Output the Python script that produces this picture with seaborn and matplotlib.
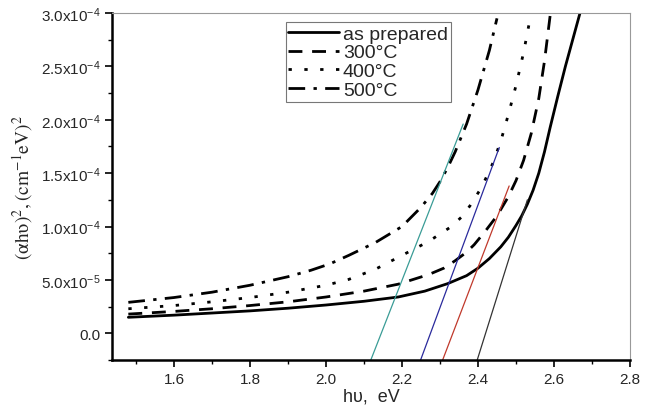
import matplotlib
matplotlib.use("Agg")
import matplotlib.pyplot as plt
import seaborn as sns
import numpy as np
from matplotlib.ticker import MultipleLocator, FuncFormatter

# photon energy (eV) and (alpha h nu)^2, y in units of 1e-5
x_prep = [1.48, 1.60, 1.70, 1.80, 1.90, 2.00, 2.10, 2.19, 2.26, 2.32, 2.37, 2.40, 2.43, 2.46, 2.48, 2.50,
          2.515, 2.53, 2.545, 2.56, 2.575, 2.59, 2.61, 2.63, 2.65, 2.67]
y_prep = [1.5, 1.7, 1.9, 2.1, 2.35, 2.65, 3.0, 3.4, 3.95, 4.65, 5.4, 6.1, 7.0, 8.1, 9.0, 10.1,
          11.0, 12.1, 13.4, 15.0, 17.0, 19.3, 22.2, 25.0, 27.6, 30.2]

x_300 = [1.48, 1.60, 1.70, 1.80, 1.90, 2.00, 2.10, 2.19, 2.27, 2.31, 2.34, 2.37, 2.39, 2.42, 2.45, 2.48,
         2.50, 2.52, 2.54, 2.56, 2.575, 2.59]
y_300 = [1.8, 2.05, 2.3, 2.6, 2.95, 3.4, 3.95, 4.6, 5.5, 6.1, 6.8, 7.6, 8.3, 9.6, 11.0, 12.8,
         14.3, 16.2, 18.7, 22.0, 25.5, 29.8]

x_400 = [1.48, 1.60, 1.70, 1.80, 1.90, 2.00, 2.06, 2.13, 2.20, 2.27, 2.33, 2.36, 2.38, 2.41, 2.44, 2.46,
         2.48, 2.50, 2.52, 2.54]
y_400 = [2.3, 2.6, 2.95, 3.35, 3.85, 4.5, 5.05, 6.0, 7.3, 8.6, 10.0, 11.0, 12.0, 13.7, 16.0, 18.0,
         20.5, 23.2, 26.3, 30.0]

x_500 = [1.48, 1.60, 1.70, 1.80, 1.90, 1.96, 2.01, 2.06, 2.13, 2.20, 2.25, 2.28, 2.30, 2.32, 2.34, 2.37,
         2.40, 2.43, 2.45]
y_500 = [2.9, 3.35, 3.85, 4.5, 5.3, 5.9, 6.5, 7.3, 8.5, 10.0, 11.8, 13.1, 14.2, 15.5, 17.0, 19.6,
         22.8, 26.5, 29.5]

# linear fits used to get the band gap: x ends and y ends (1e-5)
fit_x = [[2.118, 2.361], [2.249, 2.456], [2.307, 2.482], [2.398, 2.530]]
fit_y = [[-2.5, 19.6], [-2.5, 17.4], [-2.5, 13.8], [-2.5, 12.5]]
fit_colors = ["#3a9c96", "#2a2a9c", "#c0392b", "#333333"]

labels = ["as prepared", "300°C", "400°C", "500°C"]

sns.set_style("ticks")
plt.rcParams['font.family'] = ['Liberation Sans', 'DejaVu Sans']
plt.rcParams['mathtext.fontset'] = 'stix'

fig = plt.figure(figsize=(6.58, 4.10), dpi=100)
ax = fig.add_axes([112 / 658, 49 / 410, 518 / 658, 347 / 410])

scale = 1e-5
sns.lineplot(x=x_prep, y=np.array(y_prep) * scale, ax=ax, color="black", lw=2.0, label=labels[0], sort=False)
sns.lineplot(x=x_300, y=np.array(y_300) * scale, ax=ax, color="black", lw=2.0, label=labels[1], sort=False)
sns.lineplot(x=x_400, y=np.array(y_400) * scale, ax=ax, color="black", lw=2.0, label=labels[2], sort=False)
sns.lineplot(x=x_500, y=np.array(y_500) * scale, ax=ax, color="black", lw=2.0, label=labels[3], sort=False)
lines = ax.get_lines()
lines[1].set_dashes([5, 3.5])
lines[2].set_dashes([1.2, 4.5])
lines[3].set_dashes([6, 3, 1.2, 3])

for xs, ys, c in zip(fit_x, fit_y, fit_colors):
    ax.plot(xs, np.array(ys) * scale, color=c, lw=0.9)

ax.set_xlim(1.437, 2.8)
ax.set_ylim(-2.5e-5, 3.0e-4)
ax.xaxis.set_major_locator(MultipleLocator(0.2))
ax.xaxis.set_minor_locator(MultipleLocator(0.1))
ax.yaxis.set_major_locator(MultipleLocator(5e-5))
ax.yaxis.set_minor_locator(MultipleLocator(2.5e-5))


def sci(v, pos):
    if abs(v) < 1e-12:
        return "0.0"
    exp = int(np.floor(np.log10(abs(v))))
    mant = v / 10 ** exp
    return r"$\mathregular{%.1fx10^{%d}}$" % (mant, exp)


ax.yaxis.set_major_formatter(FuncFormatter(sci))
ax.xaxis.set_major_formatter(FuncFormatter(lambda v, p: f"{v:.1f}"))

ax.tick_params(which="major", direction="out", length=5, width=1.2, labelsize=11, color="black")
ax.tick_params(which="minor", direction="out", length=3, width=1.0, color="black")
for side in ["left", "bottom"]:
    ax.spines[side].set_linewidth(1.8)
    ax.spines[side].set_color("black")
for side in ["top", "right"]:
    ax.spines[side].set_visible(True)
    ax.spines[side].set_linewidth(0.8)
    ax.spines[side].set_color("#999999")

ax.set_xlabel("hυ,  eV", fontsize=13, labelpad=1)
ax.set_ylabel(r"$\mathrm{(\alpha h\upsilon)^2, (cm^{-1}eV)^2}$", fontsize=14, labelpad=4)

leg = ax.legend(loc="upper left", bbox_to_anchor=(0.335, 0.973), borderaxespad=0,
                fontsize=14, frameon=True, fancybox=False, handlelength=2.6,
                handletextpad=0.2, labelspacing=0.05, borderpad=0.15)
leg.get_frame().set_edgecolor("#555555")
leg.get_frame().set_linewidth(0.8)

fig.savefig("out.png", dpi=100)
